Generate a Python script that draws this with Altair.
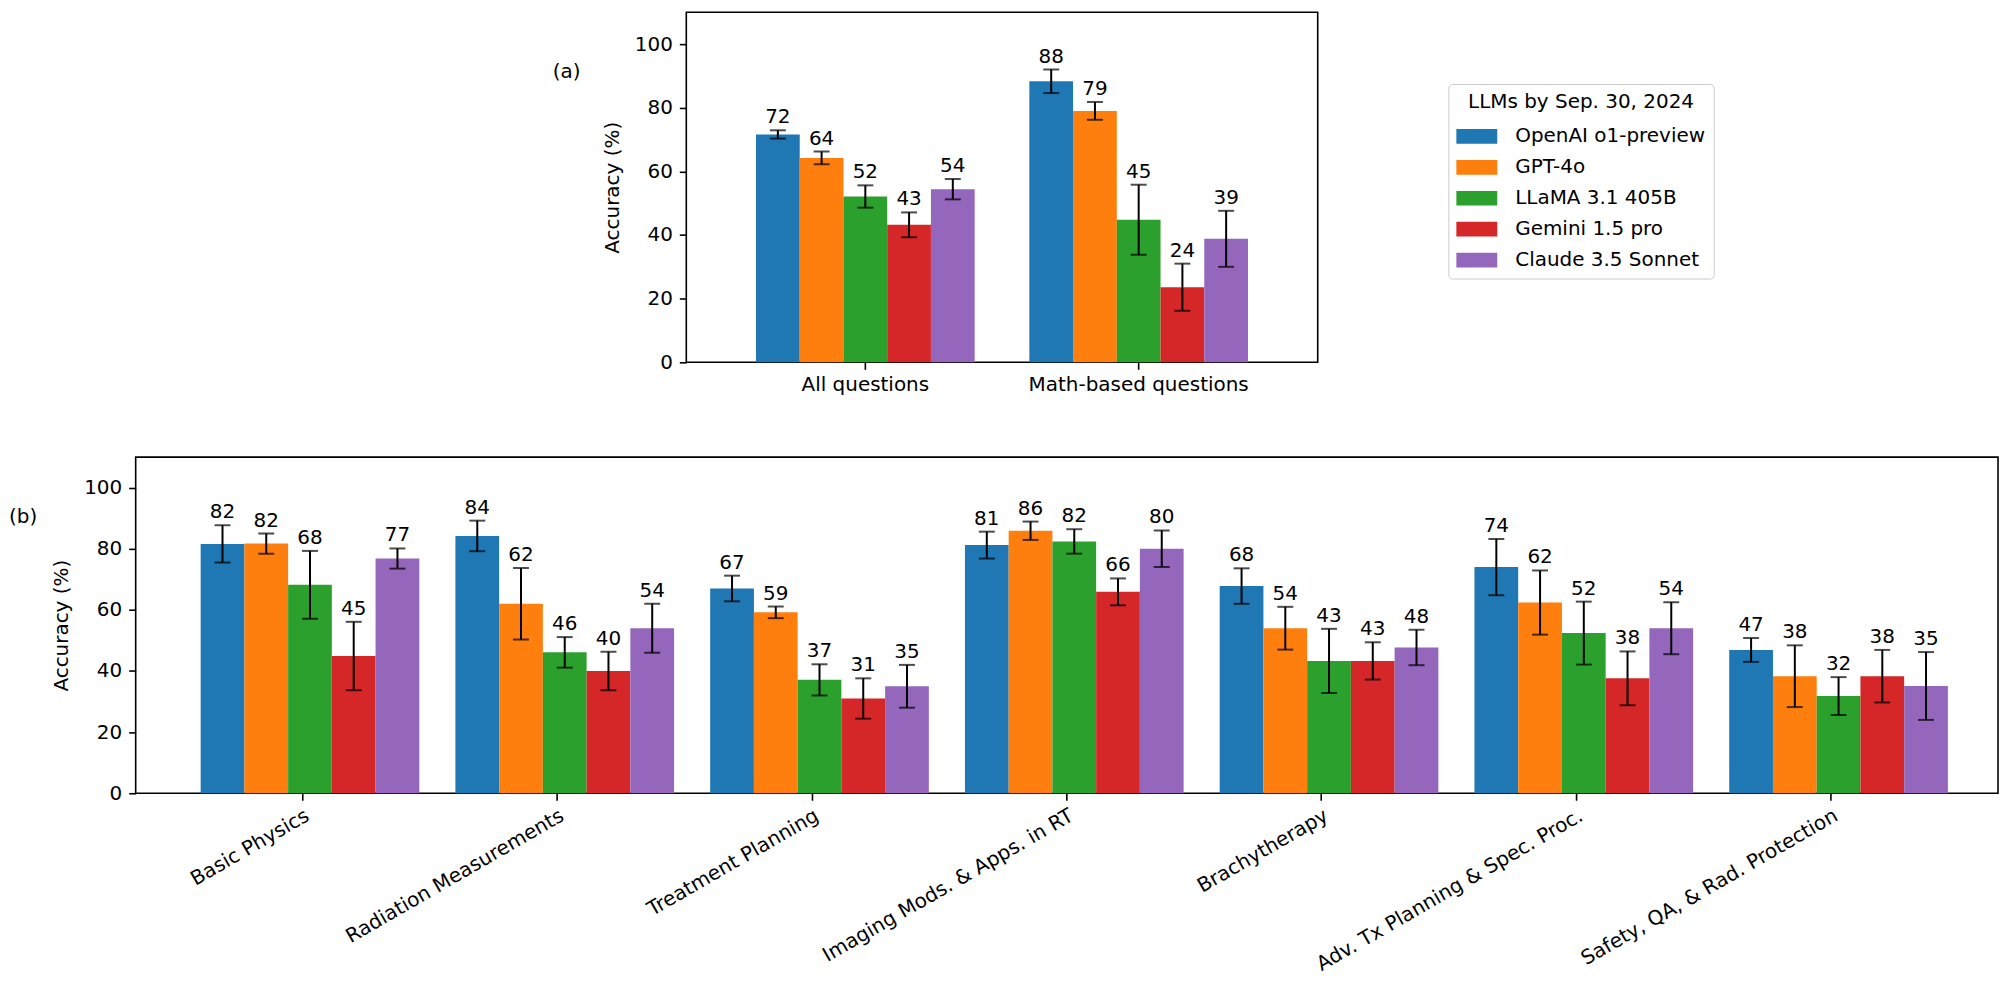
import altair as alt
import pandas as pd

FONT = "DejaVu Sans"

models = ["OpenAI o1-preview", "GPT-4o", "LLaMA 3.1 405B", "Gemini 1.5 pro", "Claude 3.5 Sonnet"]
colors = ["#1f77b4", "#ff7f0e", "#2ca02c", "#d62728", "#9467bd"]

# Panel (a)
a_cats = ["All questions", "Math-based questions"]
a_vals = [
    [71.6, 64.2, 52.1, 43.2, 54.4],
    [88.3, 79.0, 44.8, 23.6, 38.8],
]
a_errs = [
    [1.3, 2.0, 3.5, 3.9, 3.2],
    [3.7, 2.8, 11.0, 7.4, 8.8],
]

# Panel (b)
b_cats = [
    "Basic Physics",
    "Radiation Measurements",
    "Treatment Planning",
    "Imaging Mods. & Apps. in RT",
    "Brachytherapy",
    "Adv. Tx Planning & Spec. Proc.",
    "Safety, QA, & Rad. Protection",
]
b_vals = [
    [81.6, 81.7, 68.2, 44.9, 76.8],
    [84.2, 62.0, 46.1, 40.0, 54.0],
    [67.0, 59.2, 37.1, 31.0, 35.0],
    [81.2, 85.9, 82.4, 65.9, 80.0],
    [67.8, 54.0, 43.3, 43.3, 47.7],
    [74.0, 62.4, 52.4, 37.6, 54.0],
    [46.9, 38.3, 31.8, 38.3, 35.1],
]
b_errs = [
    [6.1, 3.3, 11.1, 11.2, 3.3],
    [5.0, 11.7, 5.0, 6.3, 8.0],
    [4.2, 1.9, 5.1, 6.6, 7.0],
    [4.4, 3.0, 4.0, 4.4, 6.0],
    [5.8, 7.0, 10.5, 6.1, 5.8],
    [9.2, 10.5, 10.3, 8.8, 8.5],
    [3.9, 10.1, 6.2, 8.6, 11.1],
]


def make_df(cats, vals, errs):
    rows = []
    for ci, c in enumerate(cats):
        for mi, m in enumerate(models):
            v = vals[ci][mi]
            e = errs[ci][mi]
            rows.append({"cat": c, "model": m, "val": v, "lo": v - e, "hi": v + e})
    return pd.DataFrame(rows)


dfa = make_df(a_cats, a_vals, a_errs)
dfb = make_df(b_cats, b_vals, b_errs)

legend = alt.Legend(
    title="LLMs by Sep. 30, 2024",
    orient="none",
    legendX=1316,
    legendY=72,
    titleFontSize=20,
    titleFontWeight="normal",
    titleFont=FONT,
    titleAnchor="middle",
    titlePadding=4,
    titleLimit=500,
    labelFontSize=20,
    labelFont=FONT,
    labelOffset=18,
    labelLimit=500,
    symbolType="M-1,-0.36H1V0.36H-1Z",
    symbolSize=1681,
    symbolStrokeWidth=0,
    symbolOpacity=1,
    rowPadding=-8,
    padding=8,
    strokeColor="#cccccc",
    fillColor="white",
    cornerRadius=4,
)

yscale = alt.Scale(domain=[0, 110], nice=False, zero=True)
yaxis = alt.Axis(values=[0, 20, 40, 60, 80, 100], title="Accuracy (%)", titlePadding=12)


def panel(df, cats, width, height, xaxis, tag, tag_x):
    base = alt.Chart(df).encode(
        x=alt.X("cat:N", sort=cats, title=None,
                scale=alt.Scale(paddingInner=0.2, paddingOuter=0.255), axis=xaxis),
        xOffset=alt.XOffset("model:N", sort=models,
                            scale=alt.Scale(paddingInner=0, paddingOuter=0)),
    )
    bars = base.mark_bar(strokeWidth=0).encode(
        y=alt.Y("val:Q", scale=yscale, axis=yaxis),
        color=alt.Color("model:N", sort=models,
                        scale=alt.Scale(domain=models, range=colors), legend=legend),
    )
    err = base.mark_rule(color="black", strokeWidth=2).encode(
        y=alt.Y("lo:Q", scale=yscale, axis=yaxis), y2="hi:Q"
    )
    cap_hi = base.mark_tick(orient="horizontal", size=16, thickness=2, color="black").encode(
        y=alt.Y("hi:Q", scale=yscale, axis=yaxis)
    )
    cap_lo = base.mark_tick(orient="horizontal", size=16, thickness=2, color="black").encode(
        y=alt.Y("lo:Q", scale=yscale, axis=yaxis)
    )
    labels = base.mark_text(baseline="bottom", dy=-3, fontSize=20, font=FONT, color="black").encode(
        y=alt.Y("hi:Q", scale=yscale, axis=yaxis),
        text=alt.Text("val:Q", format=".0f"),
    )
    tagc = alt.Chart(pd.DataFrame({"t": [tag]})).mark_text(
        align="left", baseline="middle", fontSize=20, font=FONT, color="black"
    ).encode(x=alt.value(tag_x), y=alt.value(60), text="t:N")
    return alt.layer(bars, err, cap_hi, cap_lo, labels, tagc).properties(width=width, height=height)


xaxis_a = alt.Axis(labelAngle=0, labelPadding=5, labelLimit=600)
xaxis_b = alt.Axis(labelAngle=-30, labelAlign="right", labelBaseline="top", labelPadding=5,
                   labelLimit=600)

panel_a = panel(dfa, a_cats, 633, 351, xaxis_a, "(a)", -134)
panel_b = panel(dfb, b_cats, 1867, 337, xaxis_b, "(b)", -127)

spacer = alt.Chart(pd.DataFrame({"v": [0]})).mark_point(opacity=0).encode(
    x=alt.value(0), y=alt.value(0)
).properties(width=552, height=351, view=alt.ViewBackground(strokeOpacity=0))

top = alt.hconcat(spacer, panel_a, spacing=0, bounds="flush")
chart = alt.vconcat(top, panel_b, spacing=61).properties(
    padding=0
).configure(font=FONT).configure_view(
    stroke="black", strokeWidth=1.6
).configure_axis(
    labelFont=FONT, titleFont=FONT, labelFontSize=20, titleFontSize=20,
    titleFontWeight="normal", labelColor="black", titleColor="black",
    tickColor="black", tickWidth=1.6, tickSize=7, domain=False, grid=False,
    labelPadding=7,
)

chart.save("out.html", embed_options={"renderer": "svg", "actions": False})
